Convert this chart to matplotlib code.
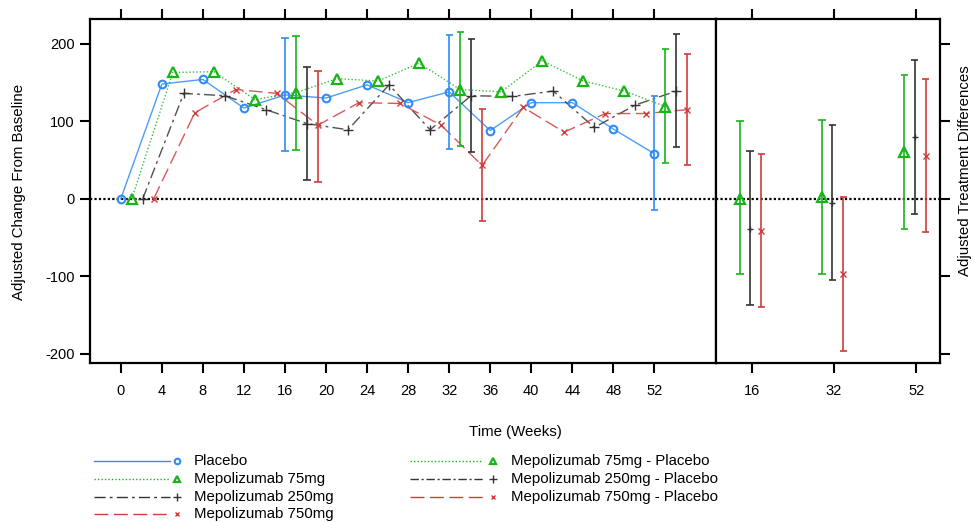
import matplotlib
matplotlib.use("Agg")
import matplotlib.pyplot as plt
from matplotlib.lines import Line2D
import numpy as np

plt.rcParams['font.family'] = ['Liberation Sans', 'DejaVu Sans']

# ---- data ----
weeks = [0, 4, 8, 12, 16, 20, 24, 28, 32, 36, 40, 44, 48, 52]
placebo = [0, 148, 154, 117, 134, 130, 147, 124, 138, 88, 124, 124, 90, 58]
mepo75 = [0, 163, 164, 128, 137, 155, 152, 175, 141, 138, 178, 152, 139, 119]
mepo250 = [0, 136, 133, 115, 97, 89, 147, 89, 133, 132, 139, 92, 121, 139]
mepo750 = [0, 111, 141, 136, 95, 124, 123, 95, 43, 118, 86, 110, 110, 115]

ci_weeks = [16, 32, 52]
placebo_lo = [62, 64.5, -15]
placebo_hi = [207, 211.6, 133]
mepo75_lo = [63, 68, 46.5]
mepo75_hi = [209.5, 215, 193.5]
mepo250_lo = [24.5, 60, 67]
mepo250_hi = [170, 206, 212.5]
mepo750_lo = [22, -29, 43]
mepo750_hi = [165, 115.7, 187]

diff_labels = ['16', '32', '52']
diff75 = [0, 2, 60]
diff75_lo = [-97, -97, -38.7]
diff75_hi = [100, 101.5, 160]
diff250 = [-38.7, -5.6, 79.6]
diff250_lo = [-137, -105, -20]
diff250_hi = [61.5, 94.6, 179.4]
diff750 = [-42, -96.8, 55.5]
diff750_lo = [-139.5, -196, -43]
diff750_hi = [57.2, 2, 155]

# ---- styles ----
C_BLUE = "#2f8cf5"
C_GREEN = "#19b419"
C_BLACK = "#333333"
C_RED = "#d23c3c"

series = [
    ("Placebo", placebo, placebo_lo, placebo_hi, C_BLUE, '-', 'o', 0.0),
    ("Mepolizumab 75mg", mepo75, mepo75_lo, mepo75_hi, C_GREEN, (0, (1, 1.5)), '^', 1.07),
    ("Mepolizumab 250mg", mepo250, mepo250_lo, mepo250_hi, C_BLACK, (0, (8, 3, 2, 3)), '+', 2.14),
    ("Mepolizumab 750mg", mepo750, mepo750_lo, mepo750_hi, C_RED, (0, (10, 4)), 'x', 3.21),
]
diffs = [
    ("Mepolizumab 75mg - Placebo", diff75, diff75_lo, diff75_hi, C_GREEN, (0, (1, 1.5)), '^', -0.145),
    ("Mepolizumab 250mg - Placebo", diff250, diff250_lo, diff250_hi, C_BLACK, (0, (6, 2, 1.5, 2)), '+', -0.02),
    ("Mepolizumab 750mg - Placebo", diff750, diff750_lo, diff750_hi, C_RED, (0, (10, 4)), 'x', 0.115),
]

W, H = 974, 522
fig = plt.figure(figsize=(W / 100, H / 100), dpi=100)
ax = fig.add_axes([90 / W, 1 - 363 / H, 626 / W, 344 / H])
ax2 = fig.add_axes([716 / W, 1 - 363 / H, 224 / W, 344 / H])

ylim = (-212, 232)


def marker_kw(m, c):
    if m == 'o':
        return dict(marker='o', ms=5.5, mfc='none', mec=c, mew=1.5)
    if m == '^':
        return dict(marker='^', ms=6.5, mfc='none', mec=c, mew=1.6)
    if m == '+':
        return dict(marker='+', ms=7, mec=c, mew=1.0)
    return dict(marker='x', ms=5, mec=c, mew=1.0)


# ---- left panel ----
ax.axhline(0, color='black', lw=1.6, ls=(0, (1, 1)), zorder=1)
for name, vals, lo, hi, c, ls, m, off in series:
    x = np.array(weeks) + off
    ax.plot(x, vals, color=c, ls=ls, lw=1.0, alpha=0.85, zorder=2)
    ax.plot(x, vals, ls='none', zorder=4, **marker_kw(m, c))
    xc = np.array(ci_weeks) + off
    ax.vlines(xc, lo, hi, color=c, lw=1.2, zorder=3)
    ax.hlines(lo, xc - 0.35, xc + 0.35, color=c, lw=1.2, zorder=3)
    ax.hlines(hi, xc - 0.35, xc + 0.35, color=c, lw=1.2, zorder=3)

ax.set_xlim(-3, 58)
ax.set_ylim(*ylim)
ax.set_xticks(weeks)
ax.set_xticklabels([str(w) for w in weeks])
ax.set_yticks([-200, -100, 0, 100, 200])
ax.set_yticklabels(['-200', '-100', '0', '100', '200'])
ax.tick_params(axis='x', direction='out', length=7, width=1.5, top=True, labelsize=10.5, pad=8)
ax.tick_params(axis='y', direction='out', length=7, width=1.5, right=False, labelsize=10.5, pad=4)
for s in ax.spines.values():
    s.set_linewidth(1.6)

fig.text(19 / W, 1 - 192 / H, "Adjusted Change From Baseline", rotation=90,
         ha='center', va='center', fontsize=10.8)

# ---- right panel ----
ax2.axhline(0, color='black', lw=1.6, ls=(0, (1, 1)), zorder=1)
pos = np.arange(1, len(diff_labels) + 1)
for name, vals, lo, hi, c, ls, m, off in diffs:
    xc = pos + off
    ax2.vlines(xc, lo, hi, color=c, lw=1.2, zorder=3)
    ax2.hlines(lo, xc - 0.045, xc + 0.045, color=c, lw=1.2, zorder=3)
    ax2.hlines(hi, xc - 0.045, xc + 0.045, color=c, lw=1.2, zorder=3)
    kw = marker_kw(m, c)
    if m == 'x':
        kw['ms'] = 4
    if m == '+':
        kw['ms'] = 5
    ax2.plot(xc, vals, ls='none', zorder=4, **kw)

ax2.set_xlim(0.565, 3.29)
ax2.set_ylim(*ylim)
ax2.set_xticks(pos)
ax2.set_xticklabels(diff_labels)
ax2.set_yticks([-200, -100, 0, 100, 200])
ax2.yaxis.tick_right()
ax2.tick_params(axis='y', direction='out', length=7, width=1.5, labelright=False, left=False)
ax2.tick_params(axis='x', direction='out', length=7, width=1.5, top=True, labelsize=10.5, pad=8)
for s in ax2.spines.values():
    s.set_linewidth(1.6)

fig.text(965 / W, 1 - 171 / H, "Adjusted Treatment Differences", rotation=90,
         ha='center', va='center', fontsize=10.8)
fig.text(515 / W, 1 - 432 / H, "Time (Weeks)", ha='center', va='center', fontsize=10.8)

# ---- legend (drawn by hand, two columns) ----
def legend_entry(x0, x1, xm, xt, y, label, c, ls, m):
    yf = 1 - y / H
    fig.add_artist(Line2D([x0 / W, x1 / W], [yf, yf], color=c, ls=ls, lw=1.0))
    kw = marker_kw(m, c)
    kw['ms'] = kw['ms'] - 1.5
    fig.add_artist(Line2D([xm / W], [yf], ls='none', **kw))
    fig.text(xt / W, yf, label, ha='left', va='center', fontsize=10.8)


rows = [461, 479, 496.5, 514]
for (name, vals, lo, hi, c, ls, m, off), y in zip(series, rows):
    legend_entry(94, 170, 177, 194, y, name, c, ls, m)
for (name, vals, lo, hi, c, ls, m, off), y in zip(diffs, rows):
    legend_entry(410, 483, 493, 511, y, name, c, ls, m)

fig.savefig("out.png", dpi=100, facecolor='white')
